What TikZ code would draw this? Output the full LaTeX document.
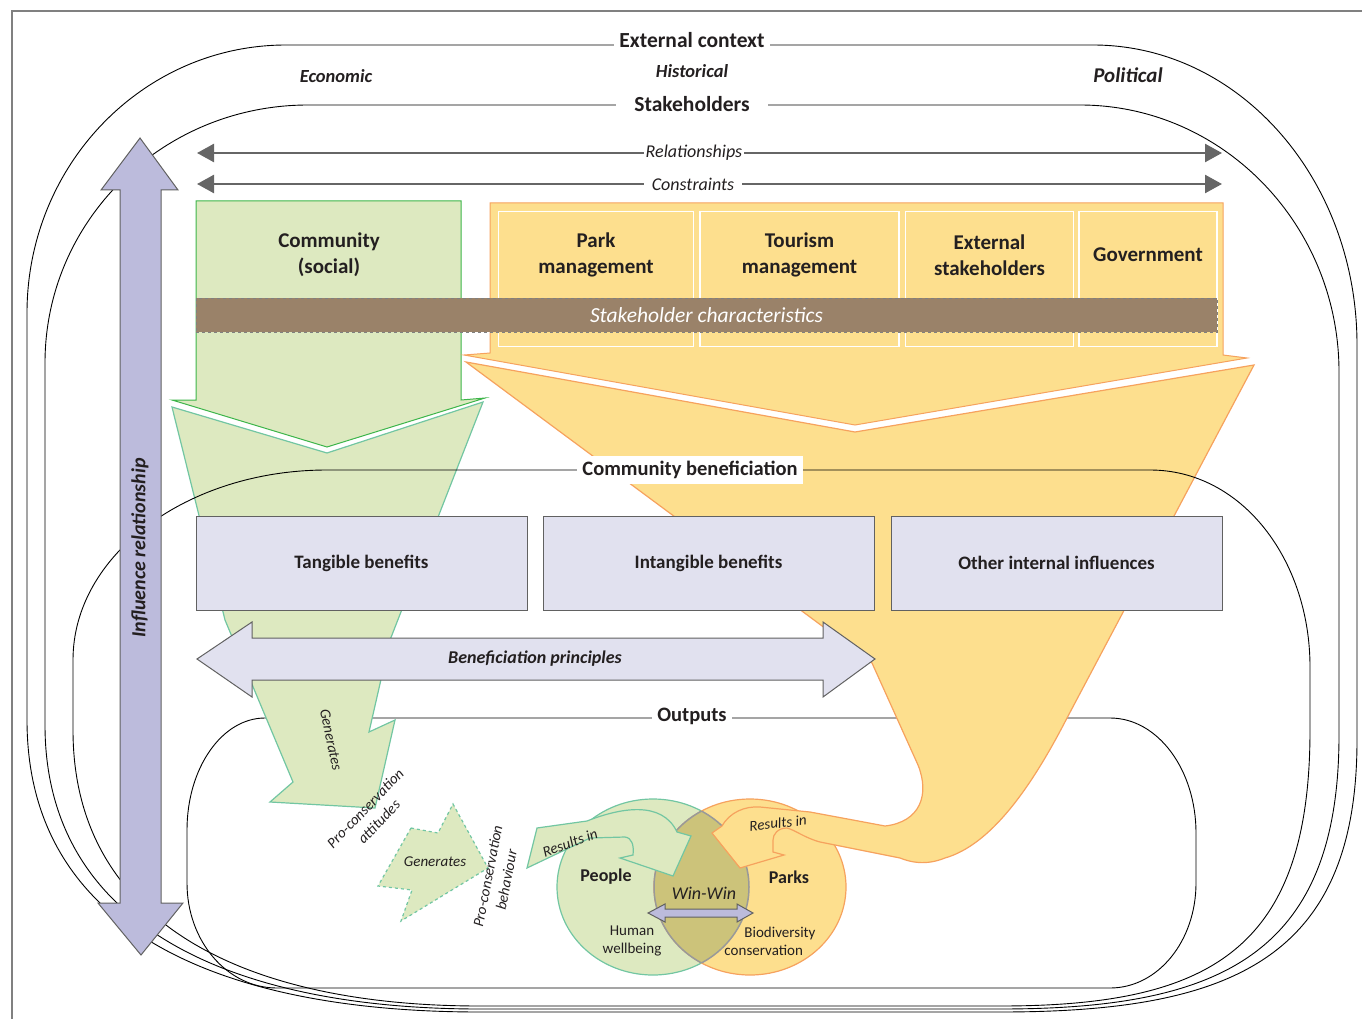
\documentclass[tikz,border=0pt]{standalone}
\usepackage{fontspec}
\setmainfont{Carlito}
\usepackage{xcolor}
\usetikzlibrary{arrows.meta,shapes.geometric}

\definecolor{greenfill}{HTML}{DDE9C0}
\definecolor{greenline}{HTML}{3DB54A}
\definecolor{tealline}{HTML}{72C6A2}
\definecolor{orangefill}{HTML}{FDDF8E}
\definecolor{orangeline}{HTML}{F6A25E}
\definecolor{boxfill}{HTML}{E1E1EF}
\definecolor{boxline}{HTML}{616161}
\definecolor{lilac}{HTML}{BCBBDC}
\definecolor{brownband}{HTML}{9A8269}
\definecolor{lensfill}{HTML}{CCC37A}
\definecolor{relgray}{HTML}{666666}
\definecolor{ink}{HTML}{231F20}

\begin{document}
\begin{tikzpicture}[x=1pt,y=-1pt,text=ink]
	\useasboundingbox (0,0) rectangle (1362,1019);
	\tikzstyle{title}=[font=\fontsize{21.5}{24}\selectfont\bfseries,fill=white,inner sep=5pt]
	\tikzstyle{context}=[font=\fontsize{18.5}{20}\selectfont\bfseries\itshape]
	\tikzstyle{stake}=[font=\fontsize{21}{26}\selectfont\bfseries,align=center]
	\tikzstyle{stakebox}=[draw=white,line width=1.5pt,minimum width=195,minimum height=135,inner sep=0]
	\tikzstyle{benefit}=[draw=boxline,fill=boxfill,minimum width=331,minimum height=94,inner sep=0,font=\fontsize{19}{20}\selectfont\bfseries]
	\tikzstyle{rel}=[relgray,line width=2.5pt,{Triangle[length=17pt,width=18pt]}-{Triangle[length=17pt,width=18pt]}]
	\tikzstyle{rellabel}=[font=\fontsize{18}{20}\selectfont\itshape,fill=white,inner sep=2pt]
	\tikzstyle{small}=[font=\fontsize{15}{19}\selectfont\itshape,align=center]
	\tikzstyle{circlab}=[font=\fontsize{18}{20}\selectfont\bfseries]
	\tikzstyle{outline}=[black,line width=0.9pt]

	% page frame
	\draw[gray,line width=1.2pt] (12,1030) -- (12,11) -- (1375,11);

	% external context
	\draw[outline] (286,45) -- (1093,45) .. controls (1240,45) and (1357,180) .. (1357,345) -- (1357,740)
		.. controls (1357,960) and (1230,1012) .. (1000,1012) -- (480,1012)
		.. controls (220,1012) and (27,930) .. (27,720) -- (27,313) .. controls (27,165) and (143,45) .. (286,45);
	% stakeholders
	\draw[outline] (308,105) -- (1080,105) .. controls (1223,105) and (1339,225) .. (1339,372) -- (1339,735)
		.. controls (1339,955) and (1220,1009) .. (1000,1009) -- (480,1009)
		.. controls (230,1009) and (45,925) .. (45,725) -- (45,363) .. controls (45,220) and (163,105) .. (308,105);
	% outputs
	\draw[outline] (265,718) -- (1110,718) .. controls (1158,718) and (1196,770) .. (1196,833) -- (1196,883)
		.. controls (1196,941) and (1158,988) .. (1110,988) -- (277,988)
		.. controls (227,988) and (187,941) .. (187,883) -- (187,830) .. controls (187,768) and (222,718) .. (265,718);

	% people and parks
	\node[ellipse,draw=tealline,fill=greenfill,line width=1.2pt,minimum width=192,minimum height=176,inner sep=0] (people) at (653,887) {};
	\node[ellipse,draw=orangeline,fill=orangefill,line width=1.2pt,minimum width=192,minimum height=176,inner sep=0] (parks) at (750,887) {};
	\begin{scope}
		\clip (people.center) ellipse (96 and 88);
		\fill[lensfill] (parks.center) ellipse (96 and 88);
		\draw[gray!80,line width=1.5pt] (parks.center) ellipse (96 and 88);
	\end{scope}
	\begin{scope}
		\clip (parks.center) ellipse (96 and 88);
		\draw[gray!80,line width=1.5pt] (people.center) ellipse (96 and 88);
	\end{scope}

	% funnels
	\draw[tealline,fill=greenfill,line width=1.2pt] (172,407) -- (327,453) -- (483,402) -- (390,640) -- (369,732)
		-- (395,720) -- (375,808) -- (270,802) -- (293,782) -- (225,620) -- cycle;
	\draw[orangeline,fill=orangefill,line width=1.2pt] (466,362) -- (855,432) -- (1254,365) -- (1067,718)
		.. controls (1030,790) and (990,845) .. (945,858) .. controls (925,866) and (910,862) .. (900,858)
		-- (820,842) .. controls (805,838) and (795,830) .. (787,828) .. controls (778,828) and (773,834) .. (773,840)
		-- (773,852) -- (784,855) -- (740,868) -- (712,833) -- (722,826) .. controls (730,812) and (745,806) .. (760,807)
		-- (810,812) -- (853,820) -- (885,826) .. controls (920,822) and (930,795) .. (918,765) -- (872,663) -- cycle;
	\draw[tealline,fill=greenfill,line width=1.2pt] (527,868) -- (537,828) -- (587,821)
		.. controls (620,808) and (662,800) .. (677,832) -- (691,836) -- (673,876) -- (620,858) -- (633,855)
		.. controls (634,845) and (632,838) .. (625,837) -- (590,838) -- cycle;
	\draw[tealline,fill=greenfill,line width=1.2pt,dashed] (411,828) -- (438,833) -- (453,804) -- (488,868)
		-- (401,921) -- (412,890) -- (378,886) -- cycle;

	% community beneficiation
	\draw[outline] (327,470) -- (1150,470) .. controls (1242,470) and (1310,560) .. (1310,667) -- (1310,730)
		.. controls (1310,950) and (1210,1006) .. (1000,1006) -- (480,1006)
		.. controls (240,1006) and (73,920) .. (73,730) -- (73,660) .. controls (73,555) and (187,470) .. (327,470);

	% stakeholder block arrows
	\draw[greenline,fill=greenfill,line width=1pt] (196,201) -- (461,201) -- (461,400) -- (485,398) -- (327,447)
		-- (172,400) -- (196,400) -- cycle;
	\draw[orangeline,fill=orangefill,line width=1pt] (490,203) -- (1223,203) -- (1223,355) -- (1247,358) -- (855,425)
		-- (464,355) -- (490,353) -- cycle;
	\node[stakebox] (parkbox) at (596,279) {};
	\node[stakebox,minimum width=199] (tourbox) at (799.5,279) {};
	\node[stakebox,minimum width=168] (extbox) at (989.5,279) {};
	\node[stakebox,minimum width=138] (govbox) at (1148,279) {};
	\node[stake] (community) at (329,255) {Community\\(social)};
	\node[stake] (park) at (596,255) {Park\\management};
	\node[stake] (tourism) at (799.5,255) {Tourism\\management};
	\node[stake] (external) at (989.5,255) {External\\stakeholders};
	\node[stake] (government) at (1148,255) {Government};
	\node[draw=gray,dashed,fill=brownband,minimum width=1021,minimum height=34,inner sep=0,
		text=white,font=\fontsize{21.5}{22}\selectfont\itshape] (chars) at (706.5,315) {Stakeholder characteristics};

	% benefits
	\node[benefit] (tangible) at (361.5,563) {Tangible benefits};
	\node[benefit] (intangible) at (708.5,563) {Intangible benefits};
	\node[benefit] (other) at (1056.5,563) {Other internal influences};
	\draw[boxline,fill=boxfill,line width=1pt] (197,659) -- (252,622) -- (252,638) -- (823,638) -- (823,622) -- (875,659)
		-- (823,697) -- (823,680) -- (252,680) -- (252,697) -- cycle;
	\node[font=\fontsize{18}{20}\selectfont\bfseries\itshape] (principles) at (535,659) {Beneficiation principles};

	% influence relationship
	\draw[boxline,fill=lilac,line width=1pt] (140,138) -- (178,190) -- (161,190) -- (161,903) -- (183,903) -- (141,955)
		-- (98,903) -- (120,903) -- (120,190) -- (101,190) -- cycle;
	\node[rotate=90,font=\fontsize{20}{22}\selectfont\bfseries\itshape] (influence) at (140,548) {Influence relationship};

	% relationships and constraints
	\coordinate (relL) at (197,153);
	\coordinate (relR) at (1222,153);
	\coordinate (conL) at (197,184);
	\coordinate (conR) at (1222,184);
	\draw[rel] (relL) -- (relR);
	\draw[rel] (conL) -- (conR);
	\node[rellabel] (relationships) at (694,153) {Relationships};
	\node[rellabel,inner xsep=8pt] (constraints) at (693,184) {Constraints};

	% titles
	\node[title] (extctx) at (692,40) {External context};
	\node[title,inner xsep=18pt] (stakeholders) at (692,104) {Stakeholders};
	\node[title,font=\fontsize{20.5}{24}\selectfont\bfseries] (benef) at (690,470) {Community beneficiation};
	\node[title,font=\fontsize{20.5}{24}\selectfont\bfseries] (outputs) at (692,716) {Outputs};
	\node[context] (economic) at (336,76) {Economic};
	\node[context] (historical) at (692,71) {Historical};
	\node[context,font=\fontsize{21}{22}\selectfont\bfseries\itshape] (political) at (1128,75) {Political};

	% outputs
	\draw[boxline,fill=lilac,line width=1pt] (648,913) -- (665,904) -- (665,909) -- (737,909) -- (737,904) -- (753,913)
		-- (737,922) -- (737,917) -- (665,917) -- (665,922) -- cycle;
	\node[small,rotate=-78] (gen1) at (331,740) {Generates};
	\node[small,rotate=46] (attitudes) at (372,815) {Pro-conservation\\attitudes};
	\node[small] (gen2) at (435,862) {Generates};
	\node[small,rotate=79] (behaviour) at (497,878) {Pro-conservation\\behaviour};
	\node[small,rotate=20] (res1) at (570,843) {Results in};
	\node[small,rotate=6] (res2) at (778,823) {Results in};
	\node[circlab] (peoplelab) at (606,877) {People};
	\node[circlab] (parkslab) at (789,877) {Parks};
	\node[font=\fontsize{18}{20}\selectfont\itshape] (winwin) at (704,893) {Win-Win};
	\node[font=\fontsize{15}{18}\selectfont,align=center] (wellbeing) at (632,941) {Human\\wellbeing};
	\node[font=\fontsize{15}{18}\selectfont,align=left] (biodiv) at (770,941) {\hspace*{20pt}Biodiversity\\conservation};
\end{tikzpicture}
\end{document}
